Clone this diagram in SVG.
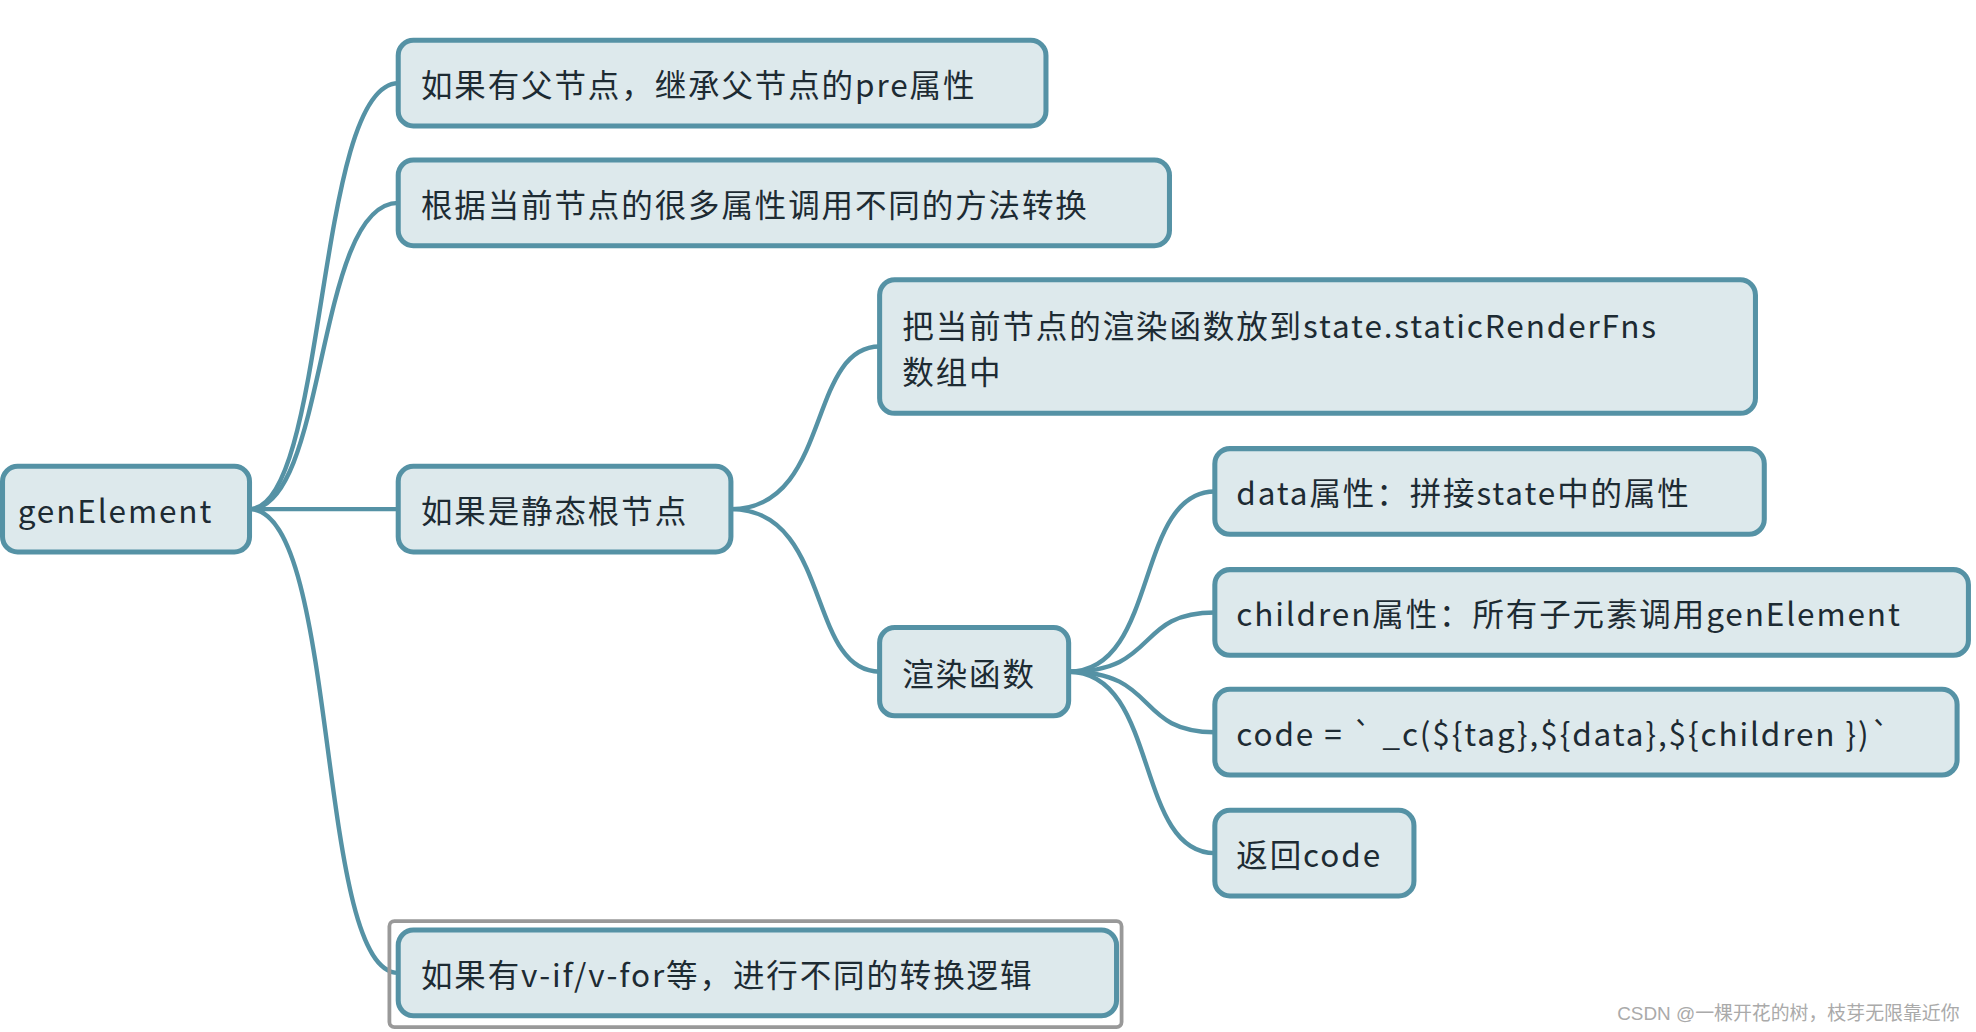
<svg xmlns="http://www.w3.org/2000/svg" width="1976" height="1032" viewBox="0 0 1976 1032">
<style>
.n rect{fill:#dde9ec;stroke:#5592a5;stroke-width:4}
.n text{font-family:"Noto Sans CJK SC","Noto Sans",sans-serif;font-size:25px;fill:#1d2b33;letter-spacing:1.5px;dominant-baseline:central}
.c path{fill:none;stroke:#5592a5;stroke-width:3.5}
</style>
<rect width="1976" height="1032" fill="#fff"/>
<g transform="scale(1.2602)">
<g class="c">
<path d="M198,404 C260,404 250,66 316,66"/>
<path d="M198,404 C260,404 250,161 316,161"/>
<path d="M198,404 L316,404"/>
<path d="M198,404 C270,404 250,772 316,772"/>
<path d="M580,404 C660,404 640,275 698,275"/>
<path d="M580,404 C660,404 640,533 698,533"/>
<path d="M848,533 C920,533 900,390 964,390"/>
<path d="M848,533 C920,533 900,486 964,486"/>
<path d="M848,533 C920,533 900,581 964,581"/>
<path d="M848,533 C920,533 900,677 964,677"/>
</g>
<g id="genElement" class="n"><rect x="2" y="370" width="196" height="68" rx="12"/><text x="14" y="404">genElement</text></g>
<g id="n1" class="n"><rect x="316" y="32" width="514" height="68" rx="12"/><text x="334" y="66">如果有父节点，继承父节点的pre属性</text></g>
<g id="n2" class="n"><rect x="316" y="127" width="612" height="68" rx="12"/><text x="334" y="161">根据当前节点的很多属性调用不同的方法转换</text></g>
<g id="n3" class="n"><rect x="316" y="370" width="264" height="68" rx="12"/><text x="334" y="404">如果是静态根节点</text></g>
<g id="n4" class="n"><rect x="698" y="222" width="695" height="106" rx="12"/><text x="716" y="257">把当前节点的渲染函数放到state.staticRenderFns</text><text x="716" y="294">数组中</text></g>
<g id="n5" class="n"><rect x="698" y="498" width="150" height="70" rx="12"/><text x="716" y="533">渲染函数</text></g>
<g id="n6" class="n"><rect x="964" y="356" width="436" height="68" rx="12"/><text x="981" y="390">data属性：拼接state中的属性</text></g>
<g id="n7" class="n"><rect x="964" y="452" width="598" height="68" rx="12"/><text x="981" y="486">children属性：所有子元素调用genElement</text></g>
<g id="n8" class="n"><rect x="964" y="547" width="589" height="68" rx="12"/><text x="981" y="581">code = ` _c(${tag},${data},${children })`</text></g>
<g id="n9" class="n"><rect x="964" y="643" width="158" height="68" rx="12"/><text x="981" y="677">返回code</text></g>
<rect x="309" y="731" width="581" height="84" rx="4" fill="none" stroke="#999" stroke-width="3"/>
<g id="n10" class="n"><rect x="316" y="738" width="570" height="68" rx="12"/><text x="334" y="772">如果有v-if/v-for等，进行不同的转换逻辑</text></g>
<text x="1555" y="809" text-anchor="end" font-family="Liberation Sans,'Noto Sans CJK SC',sans-serif" font-size="15" fill="#aaa">CSDN @一棵开花的树，枝芽无限靠近你</text>
</g>
</svg>
